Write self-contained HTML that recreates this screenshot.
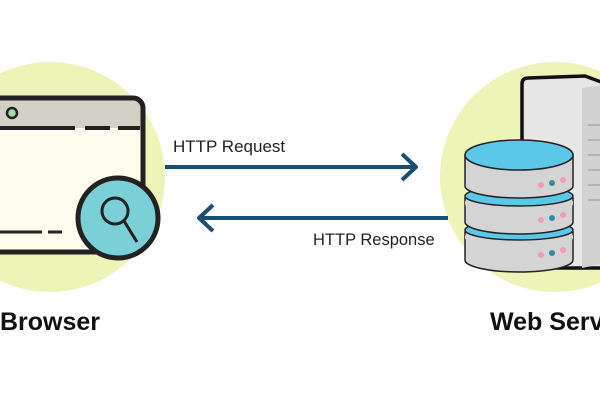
<!DOCTYPE html>
<html><head><meta charset="utf-8"><style>html,body{margin:0;padding:0;background:#fff}svg{display:block}</style></head>
<body>
<svg width="600" height="400" viewBox="0 0 600 400" xmlns="http://www.w3.org/2000/svg">
<rect width="600" height="400" fill="#fff"/>
<circle cx="50" cy="177" r="115" fill="#eef3b8"/>
<circle cx="555" cy="177" r="115" fill="#eef3b8"/>
<!-- browser window -->
<rect x="-20" y="98" width="163" height="154" rx="10" fill="#fdfcee"/>
<path d="M-18 100 H133 a8 8 0 0 1 8 8 V128 H-18 Z" fill="#d3d1c5"/>
<rect x="-20" y="98" width="163" height="154" rx="10" fill="none" stroke="#222" stroke-width="5"/>
<path d="M-18 128 H75 M85 128 H110 M118 128 H140" stroke="#222" stroke-width="4"/>
<circle cx="12" cy="113" r="5" fill="#a6dba6" stroke="#222" stroke-width="2.5"/>
<path d="M-5 232 H42 M48 232 H62" stroke="#222" stroke-width="3"/>
<circle cx="118" cy="218" r="40" fill="#7bcfd6" stroke="#222" stroke-width="5"/>
<circle cx="115" cy="211" r="13" fill="none" stroke="#222" stroke-width="3"/>
<line x1="124" y1="221" x2="137" y2="242" stroke="#222" stroke-width="3"/>
<!-- arrows -->
<line x1="165" y1="167" x2="416" y2="167" stroke="#1b4f72" stroke-width="4"/>
<polyline points="402,154 416,167 402,180" fill="none" stroke="#1b4f72" stroke-width="4" stroke-linejoin="round"/>
<line x1="199" y1="218" x2="448" y2="218" stroke="#1b4f72" stroke-width="4"/>
<polyline points="213,205 199,218 213,231" fill="none" stroke="#1b4f72" stroke-width="4" stroke-linejoin="round"/>
<text x="173" y="152" font-family="Liberation Sans, sans-serif" font-size="17" fill="#222">HTTP Request</text>
<text x="313" y="245" font-family="Liberation Sans, sans-serif" font-size="16.5" fill="#222">HTTP Response</text>
<!-- server tower -->
<path d="M522 84 Q522 78 528 78 L585 76 L612 86 V268 H522 Z" fill="#e6e6e6" stroke="#111" stroke-width="3.5"/>
<path d="M582 88 L612 84 V262 L582 268 Z" fill="#d2d2d2"/>
<path d="M588 125 H600 M588 140 H600 M588 155 H600 M588 170 H600 M588 185 H600 M588 200 H600" stroke="#aaa" stroke-width="1.5"/>
<!-- database -->
<g stroke="#222" stroke-width="1.5">
<path d="M465 232 V260 a54 12 0 0 0 108 0 V232 Z" fill="#d4d4d4"/>
<ellipse cx="519" cy="230" rx="54" ry="10" fill="#5bc8ea"/>
<path d="M465 234 a54 10 0 0 0 108 0 V238 a54 10 0 0 1 -108 0 Z" fill="#d4d4d4" stroke="none"/>
<path d="M465 198 V222 a54 12 0 0 0 108 0 V198 Z" fill="#d4d4d4"/>
<ellipse cx="519" cy="196" rx="54" ry="10" fill="#5bc8ea"/>
<path d="M465 200 a54 10 0 0 0 108 0 V204 a54 10 0 0 1 -108 0 Z" fill="#d4d4d4" stroke="none"/>
<path d="M465 155 V186 a54 12 0 0 0 108 0 V155 Z" fill="#d4d4d4"/>
<ellipse cx="519" cy="155" rx="54" ry="15" fill="#5bc8ea"/>
</g>
<g>
<circle cx="541" cy="185" r="3" fill="#f29bc0"/><circle cx="552" cy="183" r="3" fill="#2f8fa0"/><circle cx="563" cy="180" r="3" fill="#f29bc0"/>
<circle cx="541" cy="220" r="3" fill="#f29bc0"/><circle cx="552" cy="218" r="3" fill="#2f8fa0"/><circle cx="563" cy="215" r="3" fill="#f29bc0"/>
<circle cx="541" cy="255" r="3" fill="#f29bc0"/><circle cx="552" cy="253" r="3" fill="#2f8fa0"/><circle cx="563" cy="250" r="3" fill="#f29bc0"/>
</g>
<text x="0" y="330" font-family="Liberation Sans, sans-serif" font-size="25" font-weight="bold" fill="#111">Browser</text>
<text x="490" y="330" font-family="Liberation Sans, sans-serif" font-size="25" font-weight="bold" fill="#111">Web Server</text>
</svg>
</body></html>
